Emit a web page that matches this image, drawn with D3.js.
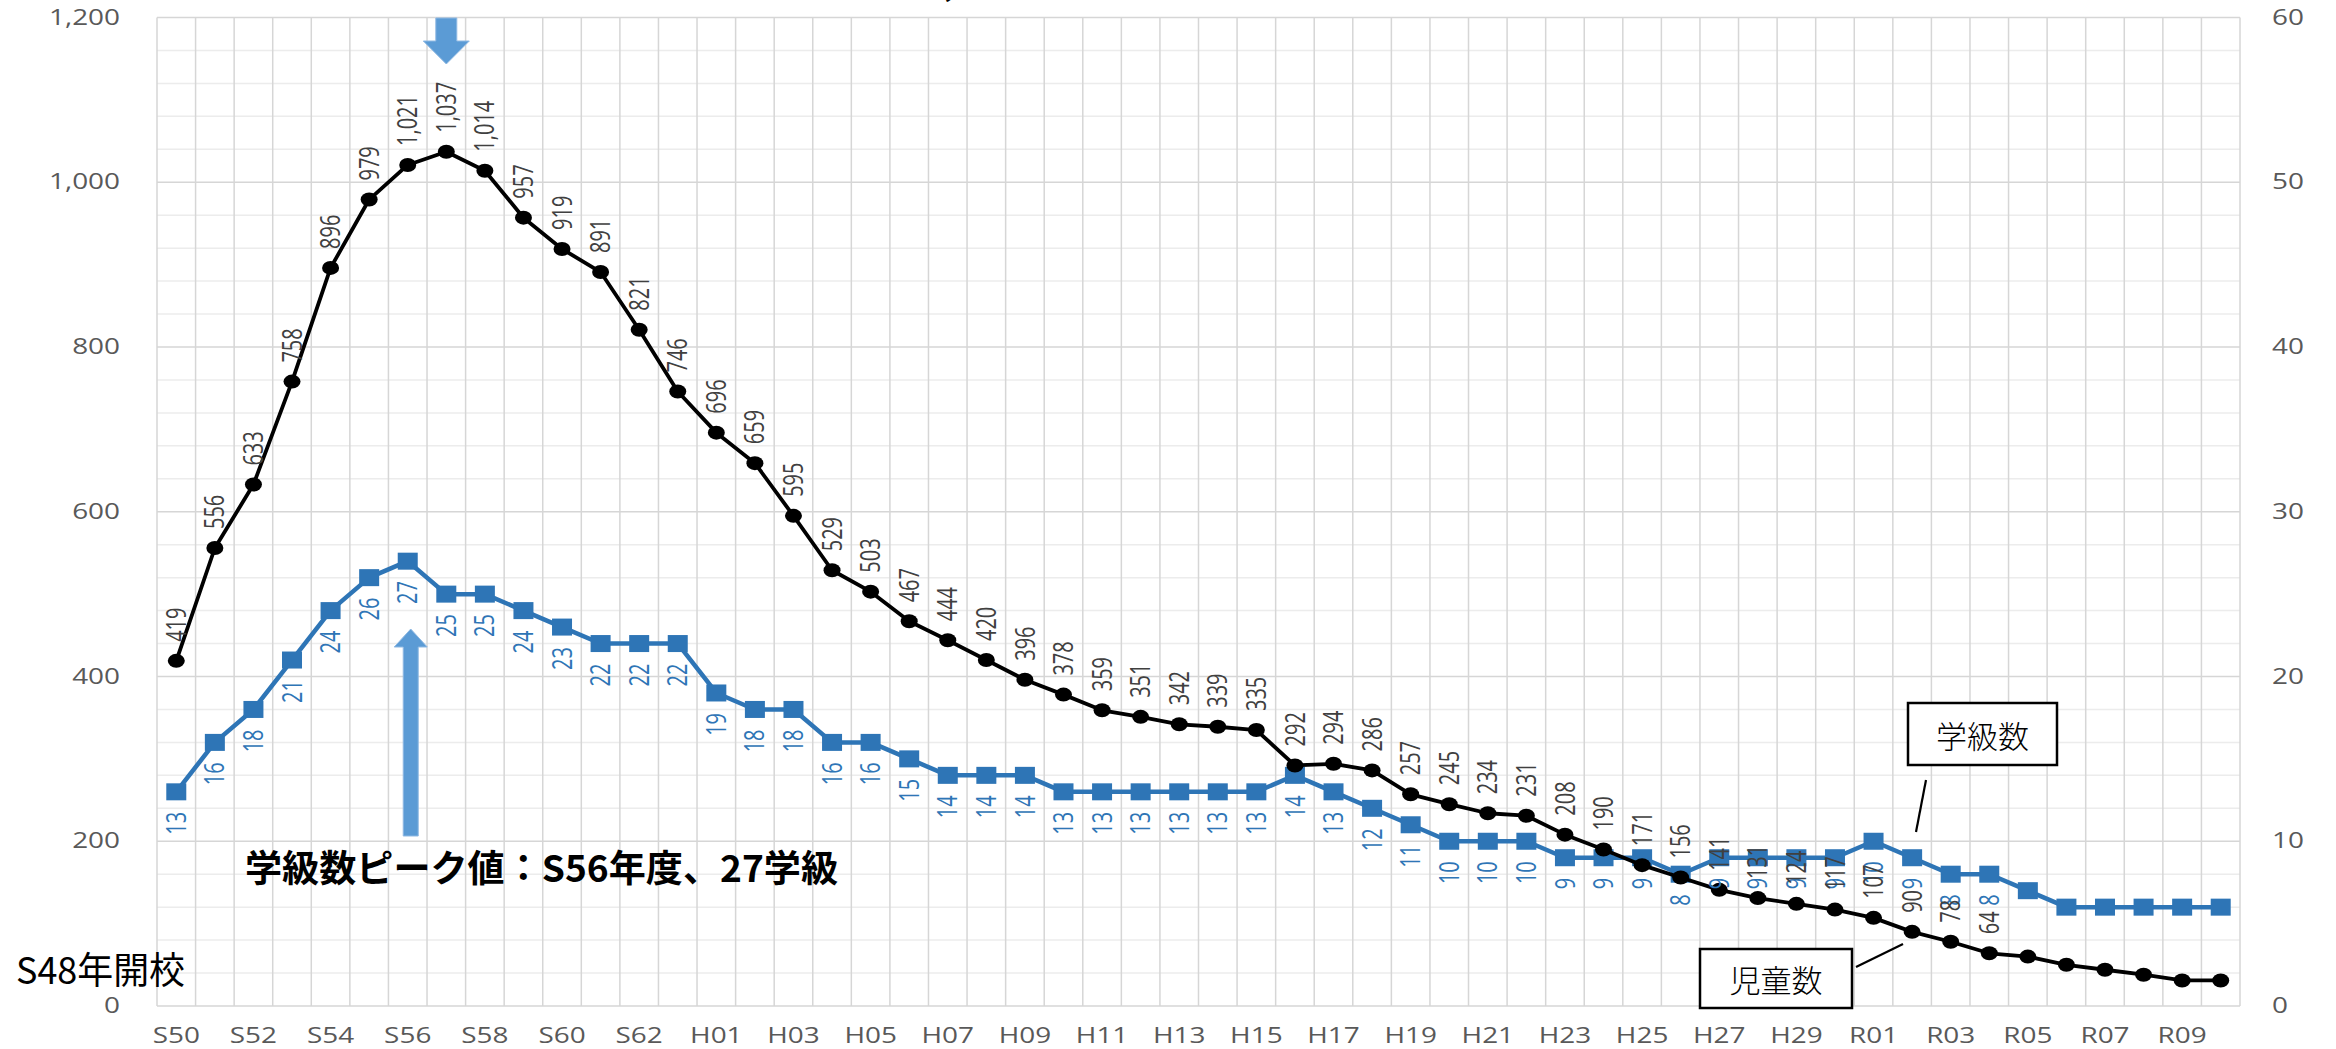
<!DOCTYPE html>
<html lang="ja">
<head>
<meta charset="utf-8">
<script src="https://cdn.jsdelivr.net/npm/d3@7"></script>
<style>
  html, body { margin: 0; padding: 0; background: #ffffff; }
  svg { display: block; }
</style>
</head>
<body>
<svg id="chart" width="2336" height="1049"></svg>
<script>
// 年度（昭和・平成・令和）
const years = [
  "S50","S51","S52","S53","S54","S55","S56","S57","S58","S59","S60","S61","S62","S63",
  "H01","H02","H03","H04","H05","H06","H07","H08","H09","H10",
  "H11","H12","H13","H14","H15","H16","H17","H18","H19","H20",
  "H21","H22","H23","H24","H25","H26","H27","H28","H29","H30",
  "R01","R02","R03","R04","R05","R06","R07","R08","R09","R10"
];

// 児童数（左軸）
const children = [
  419, 556, 633, 758, 896, 979, 1021, 1037, 1014, 957, 919, 891, 821, 746,
  696, 659, 595, 529, 503, 467, 444, 420, 396, 378,
  359, 351, 342, 339, 335, 292, 294, 286, 257, 245,
  234, 231, 208, 190, 171, 156, 141, 131, 124, 117,
  107, 90, 78, 64, 60, 50, 44, 38, 31, 31
];

// 学級数（右軸）
const classes = [
  13, 16, 18, 21, 24, 26, 27, 25, 25, 24, 23, 22, 22, 22,
  19, 18, 18, 16, 16, 15, 14, 14, 14, 13,
  13, 13, 13, 13, 13, 14, 13, 12, 11, 10,
  10, 10, 9, 9, 9, 8, 9, 9, 9, 9,
  10, 9, 8, 8, 7, 6, 6, 6, 6, 6
];

// 軸目盛
const xTickLabels = ["S50","S52","S54","S56","S58","S60","S62","H01","H03","H05","H07","H09",
  "H11","H13","H15","H17","H19","H21","H23","H25","H27","H29","R01","R03","R05","R07","R09"];
const leftTicks = [0, 200, 400, 600, 800, 1000, 1200];
const rightTicks = [0, 10, 20, 30, 40, 50, 60];

// データラベルを付ける最終年度
const lastLabelled = "R04";

// ---- layout ----
const plot = { left: 157, right: 2240, top: 17.5, bottom: 1006 };
const SX = 1.33;              // horizontal stretch of chart texts
const BLUE = "#2E75B6";
const ARROW = "#5B9BD5";
const TICK_FONT = "'Open Sans', 'Noto Sans', sans-serif";
const JP_FONT = "'Noto Sans CJK JP', 'Noto Sans', sans-serif";

const svg = d3.select("#chart");

const x = d3.scaleBand().domain(years).range([plot.left, plot.right]).padding(0);
const cx = d => x(d) + x.bandwidth() / 2;
const yL = d3.scaleLinear().domain([0, 1200]).range([plot.bottom, plot.top]);
const yR = d3.scaleLinear().domain([0, 60]).range([plot.bottom, plot.top]);

// ---- gridlines ----
const grid = svg.append("g");
grid.selectAll("line.minor")
  .data(d3.range(0, 1201, 40).filter(v => v % 200 !== 0))
  .join("line")
  .attr("x1", plot.left).attr("x2", plot.right)
  .attr("y1", d => yL(d)).attr("y2", d => yL(d))
  .attr("stroke", "#ECECEC").attr("stroke-width", 1.5);
grid.selectAll("line.vert")
  .data(years.map(d => x(d)).concat([plot.right]))
  .join("line")
  .attr("x1", d => d).attr("x2", d => d)
  .attr("y1", plot.top).attr("y2", plot.bottom)
  .attr("stroke", "#D6D6D6").attr("stroke-width", 1.5);
grid.selectAll("line.major")
  .data(leftTicks)
  .join("line")
  .attr("x1", plot.left).attr("x2", plot.right)
  .attr("y1", d => yL(d)).attr("y2", d => yL(d))
  .attr("stroke", "#D6D6D6").attr("stroke-width", 1.5);

// ---- axes ----
function stretchTicks(g) {
  g.select(".domain").remove();
  g.selectAll(".tick line").remove();
  g.selectAll(".tick text")
    .attr("fill", "#595959")
    .attr("font-family", TICK_FONT)
    .attr("font-size", 21)
    .each(function () {
      const t = d3.select(this);
      const tx = +t.attr("x") || 0;
      t.attr("x", tx / SX).attr("transform", `scale(${SX},1)`);
    });
}

svg.append("g")
  .attr("transform", `translate(${plot.left},0)`)
  .call(d3.axisLeft(yL).tickValues(leftTicks).tickFormat(d3.format(",")).tickSize(0).tickPadding(37))
  .call(stretchTicks);

svg.append("g")
  .attr("transform", `translate(${plot.right},0)`)
  .call(d3.axisRight(yR).tickValues(rightTicks).tickSize(0).tickPadding(32))
  .call(stretchTicks);

svg.append("g")
  .attr("transform", `translate(0,${plot.bottom})`)
  .call(d3.axisBottom(x).tickValues(xTickLabels).tickSize(0).tickPadding(22))
  .call(stretchTicks);

// ---- series ----
const rows = years.map((y, i) => ({ year: y, c: children[i], k: classes[i], i }));
const lastIdx = years.indexOf(lastLabelled);

// 学級数
svg.append("path")
  .datum(rows)
  .attr("fill", "none")
  .attr("stroke", BLUE)
  .attr("stroke-width", 4.5)
  .attr("stroke-linejoin", "round")
  .attr("d", d3.line().x(d => cx(d.year)).y(d => yR(d.k)));
svg.append("g").selectAll("rect")
  .data(rows)
  .join("rect")
  .attr("x", d => cx(d.year) - 10)
  .attr("y", d => yR(d.k) - 8.5)
  .attr("width", 20).attr("height", 17)
  .attr("fill", BLUE);

// 児童数
svg.append("path")
  .datum(rows)
  .attr("fill", "none")
  .attr("stroke", "#000000")
  .attr("stroke-width", 3.8)
  .attr("stroke-linejoin", "round")
  .attr("d", d3.line().x(d => cx(d.year)).y(d => yL(d.c)));
svg.append("g").selectAll("ellipse")
  .data(rows)
  .join("ellipse")
  .attr("cx", d => cx(d.year))
  .attr("cy", d => yL(d.c))
  .attr("rx", 8.5).attr("ry", 7)
  .attr("fill", "#000000");

// ---- data labels (rotated) ----
const labelled = rows.filter(d => d.i <= lastIdx);
svg.append("g").selectAll("text")
  .data(labelled)
  .join("text")
  .attr("transform", d => `translate(${cx(d.year)},${yR(d.k) + 20}) scale(${SX},1) rotate(-90)`)
  .attr("text-anchor", "end")
  .attr("dy", "0.36em")
  .attr("font-family", TICK_FONT)
  .attr("font-size", 20)
  .attr("fill", BLUE)
  .text(d => d.k);
svg.append("g").selectAll("text")
  .data(labelled)
  .join("text")
  .attr("transform", d => `translate(${cx(d.year)},${yL(d.c) - 19}) scale(${SX},1) rotate(-90)`)
  .attr("text-anchor", "start")
  .attr("dy", "0.36em")
  .attr("font-family", TICK_FONT)
  .attr("font-size", 20)
  .attr("fill", "#404040")
  .text(d => d3.format(",")(d.c));

// ---- annotations ----
const ann = svg.append("g");

// 児童数ピークの見出し（上端で切れている）
ann.append("text")
  .attr("x", 453).attr("y", -6)
  .attr("font-family", JP_FONT).attr("font-weight", 700).attr("font-size", 37)
  .attr("textLength", 604).attr("lengthAdjust", "spacingAndGlyphs")
  .attr("fill", "#000")
  .text("児童数ピーク値：S57年度、1,037人");

// 児童数ピークを指す矢印（下向き）
{
  const ax = cx("S57");
  const pts = [
    [ax - 10.5, 18], [ax + 10.5, 18], [ax + 10.5, 41], [ax + 23, 41],
    [ax, 64], [ax - 23, 41], [ax - 10.5, 41]
  ];
  ann.append("polygon")
    .attr("points", pts.map(p => p.join(",")).join(" "))
    .attr("fill", ARROW).attr("stroke", "#8FB9E3").attr("stroke-width", 1);
}

// 学級数ピークを指す矢印（上向き）
{
  const ax = cx("S56") + 3;
  const pts = [
    [ax - 7.5, 836], [ax + 7.5, 836], [ax + 7.5, 647], [ax + 16.5, 647],
    [ax, 629], [ax - 16.5, 647], [ax - 7.5, 647]
  ];
  ann.append("polygon")
    .attr("points", pts.map(p => p.join(",")).join(" "))
    .attr("fill", ARROW).attr("stroke", "#8FB9E3").attr("stroke-width", 1);
}

ann.append("text")
  .attr("x", 245).attr("y", 882)
  .attr("font-family", JP_FONT).attr("font-weight", 700).attr("font-size", 37)
  .attr("textLength", 593).attr("lengthAdjust", "spacingAndGlyphs")
  .attr("fill", "#000")
  .text("学級数ピーク値：S56年度、27学級");

ann.append("text")
  .attr("x", 16).attr("y", 984)
  .attr("font-family", JP_FONT).attr("font-weight", 400).attr("font-size", 37)
  .attr("textLength", 169).attr("lengthAdjust", "spacingAndGlyphs")
  .attr("fill", "#000")
  .text("S48年開校");

// 系列名の吹き出し
function calloutBox(bx, by, bw, bh, label, line) {
  ann.append("line")
    .attr("x1", line[0]).attr("y1", line[1]).attr("x2", line[2]).attr("y2", line[3])
    .attr("stroke", "#000").attr("stroke-width", 2.2);
  ann.append("rect")
    .attr("x", bx).attr("y", by).attr("width", bw).attr("height", bh)
    .attr("fill", "#fff").attr("stroke", "#000").attr("stroke-width", 2.5);
  ann.append("text")
    .attr("x", bx + bw / 2).attr("y", by + bh / 2)
    .attr("text-anchor", "middle").attr("dominant-baseline", "central")
    .attr("font-family", JP_FONT).attr("font-weight", 300).attr("font-size", 31)
    .attr("fill", "#000")
    .text(label);
}
calloutBox(1908, 703, 149, 62, "学級数", [1926, 780, 1916, 832]);
calloutBox(1700, 949, 152, 59, "児童数", [1856, 967, 1903, 944]);
</script>
</body>
</html>
